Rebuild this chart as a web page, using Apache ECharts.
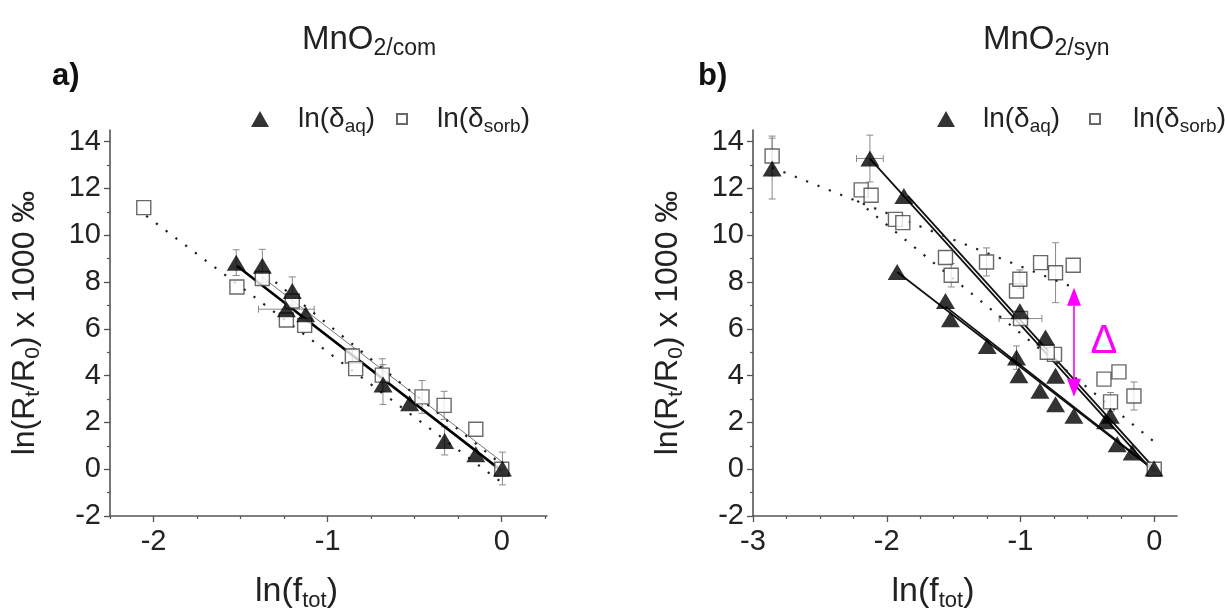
<!DOCTYPE html>
<html>
<head>
<meta charset="utf-8">
<script src="https://cdn.jsdelivr.net/npm/echarts@6/dist/echarts.min.js"></script>
<style>
  html, body { margin: 0; padding: 0; background: #fff; }
  #chart { width: 1225px; height: 616px; }
</style>
</head>
<body>
<div id="chart"></div>
<script>
// ---- Panel a: MnO2/com ------------------------------------------------
const aqA = [[-1.525, 8.83], [-1.375, 8.70], [-1.203, 7.62], [-1.237, 6.84], [-1.126, 6.62],
             [-0.682, 3.62], [-0.529, 2.82], [-0.328, 1.21], [-0.149, 0.64], [0.004, 0.03]];
const sorbA = [[-2.056, 11.18], [-1.521, 7.79], [-1.375, 8.15], [-1.203, 7.19], [-1.237, 6.38],
               [-1.132, 6.15], [-0.858, 4.84], [-0.839, 4.30], [-0.686, 4.02], [-0.458, 3.09],
               [-0.331, 2.73], [-0.149, 1.71], [0.0, 0.0]];
// [x, y, half-width]
const errYA = [[-1.525, 8.83, 0.55], [-1.375, 8.70, 0.70], [-1.203, 7.62, 0.60], [-0.682, 3.62, 0.85],
               [-0.328, 1.21, 0.60], [0.004, 0.03, 0.70], [-0.686, 4.02, 0.70], [-0.458, 3.09, 0.70],
               [-0.331, 2.73, 0.60], [-0.858, 4.84, 0.30]];
const errXA = [[-1.237, 6.84, 0.16]];
// fitted lines: [start, end]
const fitAqA = [[-1.52, 8.69], [0.0, -0.07]];
const fitAltA = [[-1.372, 8.19], [0.008, 0.28]];
const dotSorbA = [[-2.042, 10.83], [0.0, -0.57]];
const dotAltA = [[-1.30, 8.0], [0.0, 0.2]];

// ---- Panel b: MnO2/syn ------------------------------------------------
const aqB = [[-2.857, 12.85], [-2.126, 13.28], [-1.872, 11.68], [-1.922, 8.43], [-1.561, 7.19],
             [-1.524, 6.41], [-1.249, 5.27], [-1.030, 4.77], [-1.012, 4.02], [-1.005, 6.75],
             [-0.855, 3.35], [-0.813, 5.63], [-0.738, 2.78], [-0.738, 3.99], [-0.601, 2.28],
             [-0.364, 2.05], [-0.329, 2.28], [-0.277, 1.07], [-0.165, 0.71], [-0.002, 0.03]];
const sorbB = [[-2.857, 13.39], [-2.191, 11.94], [-2.117, 11.71], [-1.935, 10.68], [-1.880, 10.54],
               [-1.561, 9.05], [-1.518, 8.29], [-1.254, 8.86], [-1.030, 7.62], [-1.005, 8.12],
               [-0.850, 8.83], [-0.738, 8.40], [-0.606, 8.72], [-1.000, 6.44], [-0.746, 4.91],
               [-0.800, 5.00], [-0.376, 3.85], [-0.264, 4.16], [-0.327, 2.88], [-0.152, 3.13], [0.0, 0.0]];
const errYB = [[-2.857, 12.85, 1.30], [-2.126, 13.28, 1.00], [-1.030, 4.77, 0.50], [-2.857, 13.39, 0.85],
               [-1.518, 8.29, 0.50], [-1.254, 8.86, 0.60], [-0.738, 8.40, 1.28], [-0.327, 2.88, 0.40],
               [-0.152, 3.13, 0.60], [-1.005, 8.12, 0.40]];
const errXB = [[-2.126, 13.28, 0.10], [-1.000, 6.44, 0.16]];
const fitB1 = [[-2.126, 13.28], [0.0, -0.15]];
const fitB2 = [[-1.842, 11.68], [0.03, -0.15]];
const fitB3 = [[-1.922, 8.43], [0.0, -0.05]];
const fitB4 = [[-1.56, 6.95], [0.02, -0.12]];
const dotB1 = [[-2.857, 12.9], [-0.60, 7.76]];
const dotB2 = [[-2.22, 11.47], [0.0, 1.17]];
// Δ arrow: [x, yTop, yBottom]; label position [x, y]
const deltaArrow = [-0.60, 7.76, 3.10];
const deltaLabel = [-0.376, 5.43];

// ---- axis ticks -------------------------------------------------------
const yMajor = [-2, 0, 2, 4, 6, 8, 10, 12, 14];
const yMinor = [-1, 1, 3, 5, 7, 9, 11, 13];
const xMajorA = [-2, -1, 0];
const xMinorA = [-2.25, -1.75, -1.5, -1.25, -0.75, -0.5, -0.25, 0.25];
const xMajorB = [-3, -2, -1, 0];
const xMinorB = [-2.75, -2.5, -2.25, -1.75, -1.5, -1.25, -0.75, -0.5, -0.25];

const FONT = '"Liberation Sans", Arial, Helvetica, sans-serif';
const INK = '#222';
const AXIS = '#555';
const MAGENTA = '#ff00ff';

function rich(fs, sfs, lh, slh, gap) {
  return {
    n: { fontSize: fs, fontFamily: FONT, fontWeight: 'normal', color: INK, lineHeight: lh },
    s: { fontSize: sfs, fontFamily: FONT, fontWeight: 'normal', color: INK, lineHeight: slh, verticalAlign: 'bottom' },
    g: { width: gap || 0, lineHeight: lh }
  };
}

const LEGEND_TEXT = {
  aqA: '{g|}{n|ln(δ}{s|aq}{n|)}', sorbA: '{g|}{n|ln(δ}{s|sorb}{n|)}',
  aqB: '{g|}{n|ln(δ}{s|aq}{n|)}', sorbB: '{g|}{n|ln(δ}{s|sorb}{n|)}'
};

function mainX(gi, min, max, ticks) {
  return {
    type: 'value', gridIndex: gi, min, max, position: 'bottom',
    axisLine: { show: true, onZero: false, lineStyle: { color: AXIS, width: 1.6 } },
    axisTick: { show: true, customValues: ticks, length: 6, lineStyle: { color: AXIS, width: 1.3 } },
    axisLabel: { customValues: ticks, fontSize: 29, fontFamily: FONT, color: INK, margin: 11 },
    splitLine: { show: false },
    name: '{n|ln(f}{s|tot}{n|)}', nameLocation: 'middle', nameGap: 56,
    nameTextStyle: { rich: rich(34, 22, 40, 18), padding: [0, 64, 0, 0] }
  };
}
function minorX(gi, min, max, ticks) {
  return {
    type: 'value', gridIndex: gi, min, max, position: 'bottom',
    axisLine: { show: false, onZero: false },
    axisTick: { show: true, customValues: ticks, length: 3, lineStyle: { color: AXIS, width: 1.2 } },
    axisLabel: { show: false }, splitLine: { show: false }
  };
}
function mainY(gi) {
  return {
    type: 'value', gridIndex: gi, min: -2, max: 14.5, position: 'left',
    axisLine: { show: true, onZero: false, lineStyle: { color: AXIS, width: 1.6 } },
    axisTick: { show: true, customValues: yMajor, length: 6, lineStyle: { color: AXIS, width: 1.3 } },
    axisLabel: { customValues: yMajor, fontSize: 29, fontFamily: FONT, color: INK, margin: 9 },
    splitLine: { show: false },
    name: '{n|ln(R}{s|t}{n|/R}{s|0}{n|) x 1000 ‰}', nameLocation: 'middle', nameGap: 66,
    nameTextStyle: { rich: rich(32, 21, 38, 17) }
  };
}
function minorY(gi) {
  return {
    type: 'value', gridIndex: gi, min: -2, max: 14.5, position: 'left',
    axisLine: { show: false, onZero: false },
    axisTick: { show: true, customValues: yMinor, length: 3, lineStyle: { color: AXIS, width: 1.2 } },
    axisLabel: { show: false }, splitLine: { show: false }
  };
}

function errBars(data, ai, horizontal) {
  return {
    type: 'custom', xAxisIndex: ai, yAxisIndex: ai, data, silent: true, z: 1,
    renderItem(params, api) {
      const x = api.value(0), y = api.value(1), e = api.value(2);
      const a = horizontal ? api.coord([x - e, y]) : api.coord([x, y + e]);
      const b = horizontal ? api.coord([x + e, y]) : api.coord([x, y - e]);
      const c = 3.5;
      const st = { stroke: '#8a8a8a', lineWidth: 1 };
      const cap = p => horizontal
        ? { type: 'line', shape: { x1: p[0], y1: p[1] - c, x2: p[0], y2: p[1] + c }, style: st }
        : { type: 'line', shape: { x1: p[0] - c, y1: p[1], x2: p[0] + c, y2: p[1] }, style: st };
      return {
        type: 'group',
        children: [{ type: 'line', shape: { x1: a[0], y1: a[1], x2: b[0], y2: b[1] }, style: st }, cap(a), cap(b)]
      };
    }
  };
}

function fitLine(data, ai, lineStyle) {
  return { type: 'line', xAxisIndex: ai, yAxisIndex: ai, data, symbol: 'none', silent: true, z: 2, lineStyle };
}

const solidThick = { color: '#000', width: 2.6 };
const solidThin = { color: '#777', width: 1 };
const solidB = { color: '#111', width: 1.8 };
const dotted = { color: '#222', width: 2.2, type: [2.2, 10] };

function triangles(name, data, ai) {
  return { type: 'scatter', name, data, xAxisIndex: ai, yAxisIndex: ai, symbol: 'triangle',
           symbolSize: [19, 16], itemStyle: { color: '#000' }, z: 4, silent: true };
}
function squares(name, data, ai) {
  return { type: 'scatter', name, data, xAxisIndex: ai, yAxisIndex: ai, symbol: 'rect',
           symbolSize: 14, itemStyle: { color: '#fff', borderColor: '#444', borderWidth: 1.4 }, z: 3, silent: true };
}

function legend(name, icon, left, itemWidth, itemHeight, gap) {
  return {
    data: [{ name, icon }], left, top: 105, padding: 0, itemWidth, itemHeight,
    selectedMode: false, formatter: n => LEGEND_TEXT[n],
    textStyle: { rich: rich(28, 19, 34, 15, gap) }
  };
}

const chart = echarts.init(document.getElementById('chart'), null, { renderer: 'canvas' });
chart.setOption({
  animation: false,
  backgroundColor: '#fff',
  title: [
    { text: '{n|MnO}{s|2/com}', left: 302, top: 20, padding: 0, textStyle: { fontWeight: 'normal', rich: rich(33, 23, 40, 15) } },
    { text: '{n|MnO}{s|2/syn}', left: 983, top: 20, padding: 0, textStyle: { fontWeight: 'normal', rich: rich(33, 23, 40, 15) } },
    { text: 'a)', left: 52, top: 59, padding: 0,
      textStyle: { fontSize: 31, fontWeight: 'bold', fontFamily: FONT, color: '#111', lineHeight: 34 } },
    { text: 'b)', left: 698, top: 59, padding: 0,
      textStyle: { fontSize: 31, fontWeight: 'bold', fontFamily: FONT, color: '#111', lineHeight: 34 } }
  ],
  legend: [
    legend('aqA', 'triangle', 251, 18, 16, 24),
    legend('sorbA', 'rect', 396, 10, 10, 25),
    legend('aqB', 'triangle', 937, 18, 16, 23),
    legend('sorbB', 'rect', 1089, 10, 10, 28)
  ],
  grid: [
    { left: 110, top: 130, width: 437, height: 386, outerBoundsMode: 'none' },
    { left: 753, top: 130, width: 424, height: 386, outerBoundsMode: 'none' }
  ],
  xAxis: [
    mainX(0, -2.25, 0.26, xMajorA), minorX(0, -2.25, 0.26, xMinorA),
    mainX(1, -3, 0.17, xMajorB), minorX(1, -3, 0.17, xMinorB)
  ],
  yAxis: [mainY(0), minorY(0), mainY(1), minorY(1)],
  series: [
    errBars(errYA, 0, false), errBars(errXA, 0, true),
    fitLine(fitAltA, 0, solidThin), fitLine(fitAqA, 0, solidThick),
    fitLine(dotSorbA, 0, dotted), fitLine(dotAltA, 0, dotted),
    squares('sorbA', sorbA, 0), triangles('aqA', aqA, 0),

    errBars(errYB, 2, false), errBars(errXB, 2, true),
    fitLine(fitB1, 2, solidB), fitLine(fitB2, 2, solidB),
    fitLine(fitB3, 2, solidB), fitLine(fitB4, 2, solidB),
    fitLine(dotB1, 2, dotted), fitLine(dotB2, 2, dotted),
    squares('sorbB', sorbB, 2), triangles('aqB', aqB, 2),

    {
      type: 'custom', xAxisIndex: 2, yAxisIndex: 2, data: [deltaArrow], silent: true, z: 5,
      renderItem(params, api) {
        const x = api.value(0);
        const top = api.coord([x, api.value(1)]);
        const bot = api.coord([x, api.value(2)]);
        const hw = 7, hl = 18;
        return {
          type: 'group',
          children: [
            { type: 'line', shape: { x1: top[0], y1: top[1] + hl, x2: bot[0], y2: bot[1] - hl },
              style: { stroke: MAGENTA, lineWidth: 1.6 } },
            { type: 'polygon', shape: { points: [[top[0], top[1]], [top[0] - hw, top[1] + hl], [top[0] + hw, top[1] + hl]] },
              style: { fill: MAGENTA } },
            { type: 'polygon', shape: { points: [[bot[0], bot[1]], [bot[0] - hw, bot[1] - hl], [bot[0] + hw, bot[1] - hl]] },
              style: { fill: MAGENTA } }
          ]
        };
      }
    },
    {
      type: 'custom', xAxisIndex: 2, yAxisIndex: 2, data: [deltaLabel], silent: true, z: 5,
      renderItem(params, api) {
        const p = api.coord([api.value(0), api.value(1)]);
        return { type: 'text', x: p[0], y: p[1],
                 style: { text: 'Δ', fontSize: 40, fontFamily: FONT, fill: MAGENTA, align: 'center', verticalAlign: 'middle' } };
      }
    }
  ]
});
</script>
</body>
</html>
